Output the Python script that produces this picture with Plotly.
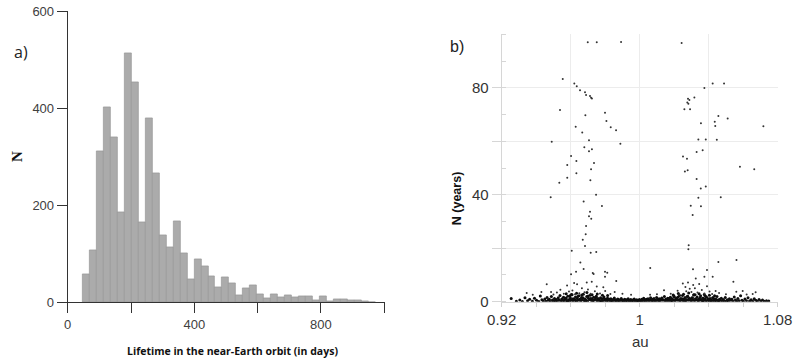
import plotly.graph_objects as go

# ---------------- Panel a) histogram data ----------------
bin_width = 22
bin_left = [48, 70, 92, 114, 136, 158, 180, 202, 224, 246, 268, 290, 312, 334,
            356, 378, 400, 422, 444, 466, 488, 510, 532, 554, 576, 598, 620,
            642, 664, 686, 708, 730, 752, 774, 796, 818, 840, 862, 884, 906,
            928, 950]
counts = [57, 107, 312, 403, 340, 186, 514, 453, 165, 380, 267, 139, 114, 167,
          102, 48, 88, 75, 54, 31, 52, 39, 15, 29, 35, 17, 8, 17, 10, 14, 10,
          12, 12, 5, 13, 3, 6, 6, 5, 5, 2, 1]
bin_center = [b + bin_width / 2 for b in bin_left]

# ---------------- Panel b) scatter data ----------------
# scattered points above the dense band
upper_au = [0.9699, 0.9751, 0.9892, 0.9554, 0.9621, 0.9635, 0.9654, 0.9683, 0.9689,
            0.9712, 0.9718, 0.9723, 0.9538, 0.9685, 0.9799, 0.9807, 0.9832, 0.9863,
            0.9629, 0.9667, 0.9490, 0.9706, 0.9888, 0.9679, 0.9723, 0.9706, 0.9602,
            0.9633, 0.9735, 0.9580, 0.9718, 0.9633, 0.9580, 0.9714, 0.9534, 0.9747,
            0.9484, 0.9675, 0.9781, 0.9712, 0.9706, 0.9719, 0.9689, 0.9687, 0.9670,
            0.9683, 0.9606, 0.9716, 0.9748, 0.9656, 0.9675, 0.9631, 0.9602, 0.9728,
            0.9733, 0.9799, 0.9812, 0.9799, 0.9864,
            1.0243, 1.0423, 1.0489, 1.0375, 1.0317, 1.0280, 1.0288, 1.0276, 1.0282,
            1.0259, 1.0292, 1.0456, 1.0510, 1.0435, 1.0438, 1.0355, 1.0717, 1.0340,
            1.0383, 1.0447, 1.0365, 1.0330, 1.0251, 1.0274, 1.0581, 1.0664, 1.0262,
            1.0278, 1.0330, 1.0383, 1.0354, 1.0340, 1.0470, 1.0296, 1.0355, 1.0307,
            1.0284, 1.0282, 1.0061, 1.0561, 1.0456, 1.0309, 1.0390, 1.0375, 1.0423,
            1.0325, 1.0543]
upper_n = [97.0, 97.0, 97.1, 83.3, 81.6, 80.6, 79.1, 78.3, 77.3,
           76.9, 76.3, 76.0, 71.7, 69.7, 70.7, 67.6, 65.2, 64.1,
           65.4, 63.3, 59.8, 60.4, 59.1, 57.8, 57.0, 56.3, 54.5,
           52.6, 51.9, 51.1, 49.5, 48.0, 46.4, 45.4, 44.5, 40.0,
           39.1, 37.5, 35.8, 33.6, 32.0, 31.0, 28.3, 25.2, 23.2,
           20.8, 19.1, 18.3, 18.6, 14.7, 12.2, 11.2, 10.3, 10.7,
           10.4, 11.2, 10.8, 9.3, 7.7,
           96.7, 81.6, 81.6, 79.9, 76.4, 75.9, 75.4, 74.5, 74.0,
           72.0, 72.0, 69.4, 68.5, 67.3, 65.7, 66.7, 65.6, 60.7,
           60.7, 60.6, 56.6, 56.0, 54.3, 53.5, 50.5, 49.5, 48.7,
           49.2, 45.9, 43.1, 42.3, 38.9, 39.1, 35.9, 35.7, 32.4,
           21.1, 19.6, 12.6, 15.6, 14.8, 12.1, 11.9, 9.3, 9.3,
           8.7, 7.5]

# low-level scatter (roughly 2-8 years)
low_au = [0.9345, 0.9430, 0.9486, 0.9461, 0.9579, 0.9620, 0.9637, 0.9693, 0.9722,
          0.9751, 0.9789, 0.9540, 0.9590, 0.9610, 0.9650, 0.9665, 0.9680, 0.9700,
          0.9715, 0.9740, 0.9770, 0.9800, 0.9830, 0.9560, 0.9625, 0.9520, 0.9500,
          0.9900, 0.9950, 0.9855, 0.9380,
          1.0141, 1.0180, 1.0220, 1.0250, 1.0265, 1.0280, 1.0290, 1.0300, 1.0310,
          1.0320, 1.0335, 1.0345, 1.0360, 1.0375, 1.0390, 1.0405, 1.0420, 1.0440,
          1.0460, 1.0500, 1.0560, 1.0597, 1.0620, 1.0672, 1.0655, 1.0100, 1.0060,
          1.0230, 1.0270]
low_n = [3.3, 3.6, 3.6, 6.5, 6.1, 7.0, 6.5, 7.2, 7.5,
         5.7, 5.4, 4.5, 3.8, 4.2, 3.2, 5.0, 3.5, 4.6,
         3.0, 3.9, 3.1, 4.0, 2.9, 3.0, 2.8, 3.4, 2.7,
         3.0, 2.6, 3.6, 2.6,
         4.3, 3.0, 4.1, 6.8, 5.5, 7.2, 4.8, 3.6, 6.2,
         5.0, 3.4, 6.6, 4.4, 3.1, 5.8, 3.8, 2.9, 4.0,
         3.3, 2.8, 3.7, 4.0, 2.7, 3.5, 2.9, 2.8, 2.6,
         2.7, 3.9]

# dense band near zero
band_au = [0.9255, 0.9285, 0.9305, 0.9320, 0.9335, 0.9350, 0.9362, 0.9378, 0.9390,
           0.9402, 0.9415, 0.9424, 0.9433, 0.9441, 0.9450, 0.9457, 0.9463, 0.9470,
           0.9476, 0.9482, 0.9488, 0.9494, 0.9500, 0.9506, 0.9511, 0.9517, 0.9522,
           0.9528, 0.9533, 0.9538, 0.9543, 0.9548, 0.9553, 0.9558, 0.9563, 0.9568,
           0.9573, 0.9578, 0.9583, 0.9588, 0.9593, 0.9598, 0.9603, 0.9608, 0.9613,
           0.9618, 0.9623, 0.9628, 0.9633, 0.9638, 0.9643, 0.9648, 0.9653, 0.9658,
           0.9663, 0.9668, 0.9673, 0.9678, 0.9683, 0.9688, 0.9693, 0.9698, 0.9703,
           0.9708, 0.9713, 0.9718, 0.9723, 0.9728, 0.9733, 0.9738, 0.9743, 0.9748,
           0.9753, 0.9758, 0.9763, 0.9768, 0.9773, 0.9778, 0.9783, 0.9788, 0.9793,
           0.9798, 0.9803, 0.9808, 0.9813, 0.9818, 0.9823, 0.9828, 0.9833, 0.9838,
           0.9843, 0.9848, 0.9853, 0.9858, 0.9863, 0.9868, 0.9873, 0.9878, 0.9883,
           0.9888, 0.9893, 0.9898, 0.9903, 0.9908, 0.9913, 0.9918, 0.9923, 0.9928,
           0.9933, 0.9938, 0.9943, 0.9948, 0.9953, 0.9958, 0.9963, 0.9968, 0.9973,
           0.9978, 0.9983, 0.9988, 0.9993, 0.9998, 1.0003, 1.0008, 1.0013, 1.0018,
           1.0023, 1.0028, 1.0033, 1.0038, 1.0043, 1.0048, 1.0053, 1.0058, 1.0063,
           1.0068, 1.0073, 1.0078, 1.0083, 1.0088, 1.0093, 1.0098, 1.0103, 1.0108,
           1.0113, 1.0118, 1.0123, 1.0128, 1.0133, 1.0138, 1.0143, 1.0148, 1.0153,
           1.0158, 1.0163, 1.0168, 1.0173, 1.0178, 1.0183, 1.0188, 1.0193, 1.0198,
           1.0203, 1.0208, 1.0213, 1.0218, 1.0223, 1.0228, 1.0233, 1.0238, 1.0243,
           1.0248, 1.0253, 1.0258, 1.0263, 1.0268, 1.0273, 1.0278, 1.0283, 1.0288,
           1.0293, 1.0298, 1.0303, 1.0308, 1.0313, 1.0318, 1.0323, 1.0328, 1.0333,
           1.0338, 1.0343, 1.0348, 1.0353, 1.0358, 1.0363, 1.0368, 1.0373, 1.0378,
           1.0383, 1.0388, 1.0393, 1.0398, 1.0403, 1.0408, 1.0413, 1.0418, 1.0423,
           1.0428, 1.0433, 1.0438, 1.0443, 1.0448, 1.0453, 1.0458, 1.0463, 1.0468,
           1.0473, 1.0478, 1.0484, 1.0490, 1.0496, 1.0502, 1.0508, 1.0514, 1.0520,
           1.0527, 1.0534, 1.0541, 1.0548, 1.0555, 1.0562, 1.0569, 1.0577, 1.0585,
           1.0593, 1.0601, 1.0610, 1.0619, 1.0628, 1.0637, 1.0646, 1.0655, 1.0664,
           1.0673, 1.0682, 1.0692, 1.0702, 1.0712, 1.0722, 1.0735, 1.0748]
band_n = [1.2, 0.2, 0.6, 0.1, 1.5, 0.4, 0.9, 0.2, 1.3,
          0.5, 0.1, 2.1, 0.7, 0.3, 1.0, 0.2, 1.6, 0.5,
          0.9, 0.1, 1.9, 0.6, 0.3, 1.2, 0.4, 0.8, 0.2,
          1.5, 0.6, 2.3, 0.3, 1.0, 0.5, 1.7, 0.2, 0.9,
          1.3, 0.4, 2.0, 0.7, 0.1, 1.4, 0.6, 2.6, 0.3,
          1.1, 0.8, 1.8, 0.2, 1.2, 0.5, 2.2, 0.9, 0.3,
          1.6, 0.7, 2.8, 0.4, 1.0, 0.6, 1.9, 0.2, 1.3,
          0.8, 2.4, 0.5, 1.1, 0.3, 1.7, 0.6, 0.9, 2.0,
          0.4, 1.2, 0.7, 0.2, 1.5, 0.5, 1.0, 0.3, 1.8,
          0.6, 0.9, 0.2, 1.3, 0.5, 0.8, 0.3, 1.1, 0.6,
          0.2, 0.9, 1.4, 0.4, 0.7, 0.2, 1.0, 0.5, 0.3,
          0.8, 1.2, 0.4, 0.6, 0.2, 0.9, 0.4, 0.7, 0.3,
          1.1, 0.5, 0.2, 0.8, 0.4, 0.6, 0.2, 1.0, 0.5,
          0.3, 0.7, 0.4, 0.2, 0.8, 0.5, 0.3, 0.9, 0.4,
          1.3, 0.6, 0.2, 0.9, 0.5, 1.1, 0.3, 0.7, 1.5,
          0.4, 0.9, 0.2, 1.2, 0.6, 0.3, 1.6, 0.8, 0.4,
          1.1, 0.2, 0.9, 1.4, 0.5, 0.7, 1.9, 0.3, 1.0,
          0.6, 1.3, 0.2, 0.8, 1.7, 0.4, 1.1, 0.6, 2.1,
          0.3, 0.9, 1.4, 0.5, 1.8, 0.7, 0.2, 1.2, 0.6,
          2.3, 0.4, 1.0, 1.6, 0.3, 0.8, 2.0, 0.5, 1.3,
          0.9, 0.2, 1.5, 0.6, 2.5, 0.4, 1.1, 0.7, 1.8,
          0.3, 1.0, 0.5, 2.2, 0.8, 0.2, 1.4, 0.6, 1.0,
          0.3, 1.7, 0.5, 0.9, 0.2, 1.2, 0.6, 0.3, 1.5,
          0.7, 0.2, 1.0, 0.4, 1.9, 0.6, 0.3, 0.9, 0.5,
          1.3, 0.2, 0.8, 0.4, 1.6, 0.3, 0.7, 0.2, 1.1,
          0.5, 0.9, 0.2, 1.8, 0.6, 0.3, 1.2, 0.4, 2.2,
          0.5, 0.2, 1.0, 0.4, 1.5, 0.3, 0.7, 0.2, 1.1,
          0.5, 0.2, 0.8, 0.3, 0.6, 0.2, 0.4, 0.3]

# extra band points in the two crowded zones
crowd_au = [0.9552, 0.9566, 0.9581, 0.9596, 0.9611, 0.9626, 0.9641, 0.9656, 0.9671,
            0.9686, 0.9701, 0.9716, 0.9731, 0.9746, 0.9761, 0.9776, 0.9791, 0.9806,
            0.9821, 0.9836, 0.9851, 0.9574, 0.9604, 0.9634, 0.9664, 0.9694, 0.9724,
            0.9754, 0.9784, 0.9814,
            1.0156, 1.0171, 1.0186, 1.0201, 1.0216, 1.0231, 1.0246, 1.0261, 1.0276,
            1.0291, 1.0306, 1.0321, 1.0336, 1.0351, 1.0366, 1.0381, 1.0396, 1.0411,
            1.0426, 1.0441, 1.0456, 1.0194, 1.0224, 1.0254, 1.0284, 1.0314, 1.0344,
            1.0374, 1.0404, 1.0434]
crowd_n = [0.7, 1.4, 0.3, 2.2, 1.0, 0.5, 1.9, 0.8, 1.5,
           0.4, 2.1, 1.2, 0.6, 1.6, 0.9, 0.3, 1.3, 0.7,
           1.0, 0.5, 0.8, 3.0, 2.7, 3.2, 2.5, 3.4, 2.6,
           2.9, 2.4, 2.3,
           0.6, 1.3, 0.4, 1.8, 0.9, 2.3, 1.1, 0.5, 1.9,
           0.8, 1.4, 2.6, 0.7, 1.6, 0.4, 2.1, 1.0, 0.6,
           1.5, 0.9, 0.5, 2.5, 3.1, 2.8, 3.3, 2.6, 3.0,
           2.7, 2.4, 2.2]

W, H = 794, 362


def px(x):
    return x / W


def py(y):
    return 1 - y / H


fig = go.Figure()

fig.add_trace(go.Bar(
    x=bin_center, y=counts, width=bin_width,
    marker=dict(color="#ababab", line=dict(color="#969696", width=0.7)),
    xaxis="x", yaxis="y", showlegend=False, hoverinfo="x+y"))

band_dot = dict(color="#0d0d0d", size=3.0, line=dict(width=0))
small_dot = dict(color="#333333", size=2.0, line=dict(width=0))
for xs, ys, mk in ((band_au, band_n, band_dot), (crowd_au, crowd_n, band_dot),
                   (low_au, low_n, small_dot), (upper_au, upper_n, small_dot)):
    fig.add_trace(go.Scatter(x=xs, y=ys, mode="markers", marker=mk,
                             xaxis="x2", yaxis="y2", showlegend=False))

tickfont_a = dict(family="Liberation Sans, Arial", size=13, color="#404040")
tickfont_b = dict(family="Liberation Sans, Arial", size=15, color="#333333")

fig.update_layout(
    width=W, height=H,
    margin=dict(l=0, r=0, t=0, b=0, autoexpand=False),
    paper_bgcolor="white", plot_bgcolor="white",
    bargap=0,
    xaxis=dict(domain=[px(67.7), px(384.5)], anchor="y", range=[0, 1001],
               automargin=False,
               tickvals=[0, 400, 800], ticks="outside", ticklen=10,
               tickcolor="#333", showline=True, linecolor="#333", linewidth=1,
               showgrid=False, zeroline=False, tickfont=tickfont_a,
               minor=dict(dtick=200, tick0=0, ticks="outside", ticklen=10,
                          tickcolor="#333", showgrid=False)),
    yaxis=dict(domain=[py(302.3), py(11.3)], anchor="x", range=[0, 600],
               automargin=False,
               tickvals=[0, 200, 400, 600], ticks="outside", ticklen=10,
               tickcolor="#333", showline=True, linecolor="#333", linewidth=1,
               showgrid=False, zeroline=False, tickfont=tickfont_a),
    xaxis2=dict(domain=[px(501.7), px(777.7)], anchor="y2", range=[0.92, 1.08],
                automargin=False,
                tickvals=[0.92, 0.96, 1.0, 1.04, 1.08],
                ticktext=["0.92", "", "1", "", "1.08"],
                ticks="outside", ticklen=4, tickcolor="#d0d0d0",
                showline=True, linecolor="#d6d6d6", linewidth=1,
                showgrid=True, gridcolor="#ececec", gridwidth=1,
                zeroline=False, tickfont=tickfont_b,
                minor=dict(dtick=0.02, tick0=0.92, ticks="outside", ticklen=4,
                           tickcolor="#d0d0d0", showgrid=False)),
    yaxis2=dict(domain=[py(301.7), py(34.3)], anchor="x2", range=[0, 100],
                automargin=False,
                tickvals=[0, 20, 40, 60, 80],
                ticktext=["0", "", "40", "", "80"],
                ticks="outside", ticklen=9, tickcolor="#d6d6d6",
                showline=True, linecolor="#d6d6d6", linewidth=1,
                showgrid=True, gridcolor="#ececec", gridwidth=1,
                zeroline=False, tickfont=tickfont_b,
                minor=dict(dtick=10, tick0=0, ticks="inside", ticklen=4,
                           tickcolor="#d6d6d6", showgrid=False)),
)

annots = [
    dict(text="a)", x=px(21), y=py(52), font=dict(family="Open Sans", size=16, color="#222")),
    dict(text="<b>N</b>", x=px(17), y=py(157), textangle=-90,
         font=dict(family="Liberation Serif", size=15, color="#111")),
    dict(text="<b>Lifetime in the near-Earth orbit (in days)</b>", x=px(232), y=py(350.5),
         font=dict(family="Open Sans", size=10.5, color="#111")),
    dict(text="b)", x=px(457), y=py(46), font=dict(family="Liberation Sans", size=16, color="#222")),
    dict(text="<b>N (years)</b>", x=px(456.7), y=py(198.5), textangle=-90,
         font=dict(family="Liberation Sans", size=12.5, color="#111")),
    dict(text="au", x=px(640), y=py(341), font=dict(family="Liberation Sans", size=15, color="#333")),
]
for a in annots:
    a.update(xref="paper", yref="paper", showarrow=False, xanchor="center", yanchor="middle")
fig.update_layout(annotations=annots)

fig.write_html("out.html")
